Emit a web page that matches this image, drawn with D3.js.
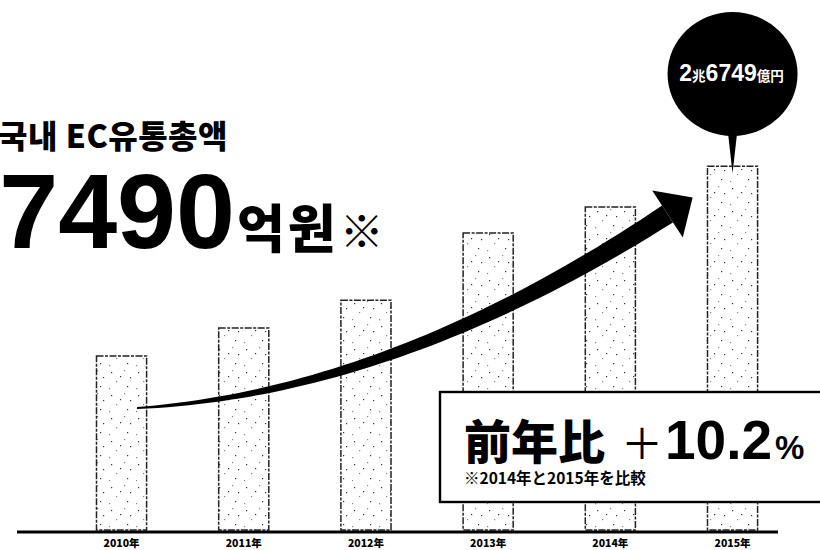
<!DOCTYPE html>
<html>
<head>
<meta charset="utf-8">
<script src="https://cdn.jsdelivr.net/npm/d3@7"></script>
<style>
  html, body { margin: 0; padding: 0; background: #fff; }
  svg { display: block; }
</style>
</head>
<body>
<svg id="chart" width="820" height="550"></svg>
<script>
// Yearly totals (億円) and axis labels
const years = ["2010年", "2011年", "2012年", "2013年", "2014年", "2015年"];
const values = [12800, 14850, 16900, 21840, 23750, 26749];

// Headline texts
const titleLine = "국내 EC유통총액";
const headlineNumber = "7490";
const headlineUnit = "억원";
const headlineMark = "※";

// Callout on the latest bar: 2兆6749億円
const bubbleParts = [
  { t: "2", big: true }, { t: "兆", big: false },
  { t: "6749", big: true }, { t: "億円", big: false }
];

// Growth box
const growthLabel = "前年比";
const growthSign = "＋";
const growthValue = "10.2";
const growthUnit = "%";
const growthNote = "※2014年と2015年を比較";

const svg = d3.select("#chart");
const baseY = 530;

const x = d3.scaleBand().domain(years).range([96.5, 757.6]).paddingInner(0.59).paddingOuter(0);
const y = d3.scaleLinear().domain([0, 30000]).range([baseY, 122]);

// Light stippled texture for the bars
const defs = svg.append("defs");
const pat = defs.append("pattern")
  .attr("id", "stipple").attr("patternUnits", "userSpaceOnUse")
  .attr("width", 27).attr("height", 23);
pat.append("rect").attr("width", 27).attr("height", 23).attr("fill", "#fff");
[[3,4],[16,2],[22,9],[8,13],[19,18],[1,20],[12,8]].forEach(([px, py], i) => {
  pat.append("rect").attr("x", px).attr("y", py).attr("width", 1.2).attr("height", 1.2)
    .attr("fill", i % 2 === 0 ? "#333" : "#888");
});

// Bars
svg.append("g").selectAll("rect").data(values).join("rect")
  .attr("x", (d, i) => x(years[i]))
  .attr("y", d => y(d))
  .attr("width", x.bandwidth())
  .attr("height", d => baseY - y(d))
  .attr("fill", "url(#stipple)")
  .attr("stroke", "#222")
  .attr("stroke-width", 1.5)
  .attr("stroke-dasharray", "7,1.5,3,1.5");

// Baseline
svg.append("line")
  .attr("x1", 17).attr("x2", 778)
  .attr("y1", baseY + 2).attr("y2", baseY + 2)
  .attr("stroke", "#000").attr("stroke-width", 3.2);

// Year labels
svg.append("g").selectAll("text").data(years).join("text")
  .attr("x", d => x(d) + x.bandwidth() / 2)
  .attr("y", 547)
  .attr("text-anchor", "middle")
  .attr("font-family", "'Noto Sans CJK JP', sans-serif")
  .attr("font-weight", 900)
  .attr("font-size", 10.5)
  .attr("fill", "#000")
  .text(d => d);

// Growth arrow: quadratic curve with a tapering body
const p0 = [x(years[0]) + 40.5, 408];
const p1 = [393, 393];
const p2 = [x(years[5]) - 40, 214];
const q = (t) => [
  (1 - t) * (1 - t) * p0[0] + 2 * (1 - t) * t * p1[0] + t * t * p2[0],
  (1 - t) * (1 - t) * p0[1] + 2 * (1 - t) * t * p1[1] + t * t * p2[1]
];
const dq = (t) => [
  2 * (1 - t) * (p1[0] - p0[0]) + 2 * t * (p2[0] - p1[0]),
  2 * (1 - t) * (p1[1] - p0[1]) + 2 * t * (p2[1] - p1[1])
];
const left = [], right = [];
d3.range(0, 1.0001, 0.02).forEach(t => {
  const [px, py] = q(t);
  const [dx, dy] = dq(t);
  const len = Math.hypot(dx, dy);
  const nx = -dy / len, ny = dx / len;
  const w = (2 + 18 * t) / 2;
  left.push([px + nx * w, py + ny * w]);
  right.push([px - nx * w, py - ny * w]);
});
svg.append("path")
  .attr("d", d3.line()(left.concat(right.reverse())) + "Z")
  .attr("fill", "#000");
// Arrow head
{
  const [dx, dy] = dq(1);
  const len = Math.hypot(dx, dy);
  const ux = dx / len, uy = dy / len;
  const nx = -uy, ny = ux;
  const half = 28, tipLen = 30;
  const a = [p2[0] + nx * half, p2[1] + ny * half];
  const b = [p2[0] - nx * half, p2[1] - ny * half];
  const tip = [p2[0] + ux * tipLen, p2[1] + uy * tipLen];
  svg.append("path").attr("d", d3.line()([a, tip, b]) + "Z").attr("fill", "#000");
}

// Growth box (open to the right edge)
const box = svg.append("g");
box.append("rect")
  .attr("x", 440).attr("y", 392)
  .attr("width", 460).attr("height", 110)
  .attr("fill", "#fff").attr("stroke", "#000").attr("stroke-width", 2.4);
const gt = box.append("text").attr("x", 464).attr("y", 459).attr("fill", "#000");
gt.append("tspan")
  .attr("font-family", "'Noto Sans CJK JP', sans-serif").attr("font-weight", 900)
  .attr("font-size", 47).text(growthLabel);
gt.append("tspan").attr("dx", 16)
  .attr("font-family", "'Noto Sans CJK JP', sans-serif").attr("font-weight", 400)
  .attr("font-size", 42).text(growthSign);
gt.append("tspan").attr("dx", 2)
  .attr("font-family", "'Liberation Sans', Arial, sans-serif").attr("font-weight", 700)
  .attr("font-size", 55).text(growthValue);
gt.append("tspan").attr("dx", 3)
  .attr("font-family", "'Liberation Sans', Arial, sans-serif").attr("font-weight", 700)
  .attr("font-size", 33).text(growthUnit);
box.append("text")
  .attr("x", 464).attr("y", 484)
  .attr("font-family", "'Noto Sans CJK JP', sans-serif").attr("font-weight", 700)
  .attr("font-size", 15.5).attr("fill", "#000")
  .text(growthNote);

// Headline (runs off the left edge)
svg.append("text")
  .attr("x", 228).attr("y", 148)
  .attr("text-anchor", "end")
  .attr("font-family", "'Noto Sans CJK KR', sans-serif").attr("font-weight", 900)
  .attr("font-size", 32).attr("letter-spacing", 0.5).attr("fill", "#000")
  .text(titleLine);
svg.append("text")
  .attr("x", 235).attr("y", 248)
  .attr("text-anchor", "end").attr("fill", "#000")
  .attr("font-family", "'Liberation Sans', Arial, sans-serif").attr("font-weight", 700)
  .attr("font-size", 106).text(headlineNumber);
const unit = svg.append("text")
  .attr("x", 237).attr("y", 248).attr("fill", "#000");
unit.append("tspan")
  .attr("font-family", "'Noto Sans CJK KR', sans-serif").attr("font-weight", 900)
  .attr("font-size", 52).attr("letter-spacing", 3).text(headlineUnit);
unit.append("tspan").attr("dx", 1)
  .attr("font-family", "'Noto Sans CJK KR', sans-serif").attr("font-weight", 700)
  .attr("font-size", 44).text(headlineMark);

// Callout bubble above the latest bar
const last = years.length - 1;
const cx = x(years[last]) + x.bandwidth() / 2;
const tipY = y(values[last]) + 7;
const bubble = svg.append("g");
bubble.append("path")
  .attr("d", d3.line()([[cx - 6, 120], [cx + 6, 120], [cx, tipY]]) + "Z")
  .attr("fill", "#000");
bubble.append("ellipse")
  .attr("cx", cx).attr("cy", 74)
  .attr("rx", 65).attr("ry", 62)
  .attr("fill", "#000");
const bt = bubble.append("text")
  .attr("x", cx - 1).attr("y", 81)
  .attr("text-anchor", "middle").attr("fill", "#fff");
bubbleParts.forEach(p => {
  bt.append("tspan")
    .attr("font-family", p.big ? "'Liberation Sans', Arial, sans-serif" : "'Noto Sans CJK JP', sans-serif")
    .attr("font-weight", 700)
    .attr("font-size", p.big ? 23 : 13.5)
    .text(p.t);
});
</script>
</body>
</html>
